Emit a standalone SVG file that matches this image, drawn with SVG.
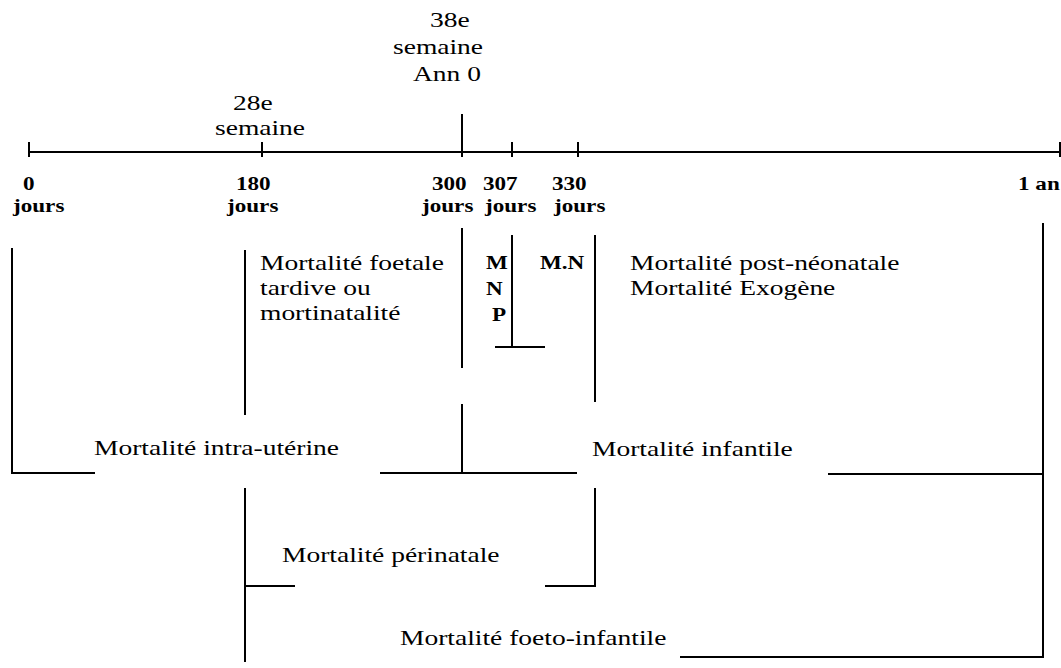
<svg xmlns="http://www.w3.org/2000/svg" width="1061" height="668" viewBox="0 0 1061 668">
<style>
.t{font-family:"Liberation Serif","Times New Roman",serif;font-size:22px;fill:#000}
.b{font-family:"Liberation Serif","Times New Roman",serif;font-size:18.5px;font-weight:bold;fill:#000}
.ln{stroke:#000;stroke-width:2;fill:none}
</style>
<rect width="1061" height="668" fill="#fff"/>
<g id="connectors" class="ln">
<path d="M29,152H1060"/>
<path d="M29,142V157M262,142V157M462,114V157M512,142V157M578,142V157M1060,142V157"/>
<path d="M12,248V473H95"/>
<path d="M245,250V415"/>
<path d="M462,228V368"/>
<path d="M380,473H462V404"/>
<path d="M462,473H577"/>
<path d="M512,235V347M495,347H545"/>
<path d="M595,235V402"/>
<path d="M828,474H1043M1043,223V657H680"/>
<path d="M245,488V662M245,586H295"/>
<path d="M595,488V586H545"/>
</g>
<g id="top-labels">
<text class="t" transform="translate(430,27) scale(1.25,1)">38e</text>
<text class="t" transform="translate(393,54) scale(1.25,1)">semaine</text>
<text class="t" transform="translate(413,81) scale(1.25,1)">Ann 0</text>
<text class="t" transform="translate(233,110) scale(1.25,1)">28e</text>
<text class="t" transform="translate(215,135) scale(1.25,1)">semaine</text>
</g>
<g id="day-labels">
<text class="b" transform="translate(23,190) scale(1.25,1)">0</text>
<text class="b" transform="translate(13,212) scale(1.25,1)">jours</text>
<text class="b" transform="translate(236,190) scale(1.25,1)">180</text>
<text class="b" transform="translate(227,212) scale(1.25,1)">jours</text>
<text class="b" transform="translate(432,190) scale(1.25,1)">300</text>
<text class="b" transform="translate(422,212) scale(1.25,1)">jours</text>
<text class="b" transform="translate(483,190) scale(1.25,1)">307</text>
<text class="b" transform="translate(485,212) scale(1.25,1)">jours</text>
<text class="b" transform="translate(552,190) scale(1.25,1)">330</text>
<text class="b" transform="translate(554,212) scale(1.25,1)">jours</text>
<text class="b" transform="translate(1018,190) scale(1.25,1)">1 an</text>
</g>
<g id="foetale">
<text class="t" transform="translate(260,270) scale(1.25,1)">Mortalité foetale</text>
<text class="t" transform="translate(260,295) scale(1.25,1)">tardive ou</text>
<text class="t" transform="translate(260,320) scale(1.25,1)">mortinatalité</text>
</g>
<g id="mnp">
<text class="b" transform="translate(486,269) scale(1.25,1)">M</text>
<text class="b" transform="translate(486,295) scale(1.25,1)">N</text>
<text class="b" transform="translate(492,321) scale(1.25,1)">P</text>
</g>
<g id="mn">
<text class="b" transform="translate(540,269) scale(1.25,1)">M.N</text>
</g>
<g id="post-neonatale">
<text class="t" transform="translate(630,270) scale(1.25,1)">Mortalité post-néonatale</text>
<text class="t" transform="translate(630,295) scale(1.25,1)">Mortalité Exogène</text>
</g>
<g id="intra-uterine">
<text class="t" transform="translate(94,455) scale(1.25,1)">Mortalité intra-utérine</text>
</g>
<g id="infantile">
<text class="t" transform="translate(592,456) scale(1.25,1)">Mortalité infantile</text>
</g>
<g id="perinatale">
<text class="t" transform="translate(282,562) scale(1.25,1)">Mortalité périnatale</text>
</g>
<g id="foeto-infantile">
<text class="t" transform="translate(400,645) scale(1.25,1)">Mortalité foeto-infantile</text>
</g>
</svg>
